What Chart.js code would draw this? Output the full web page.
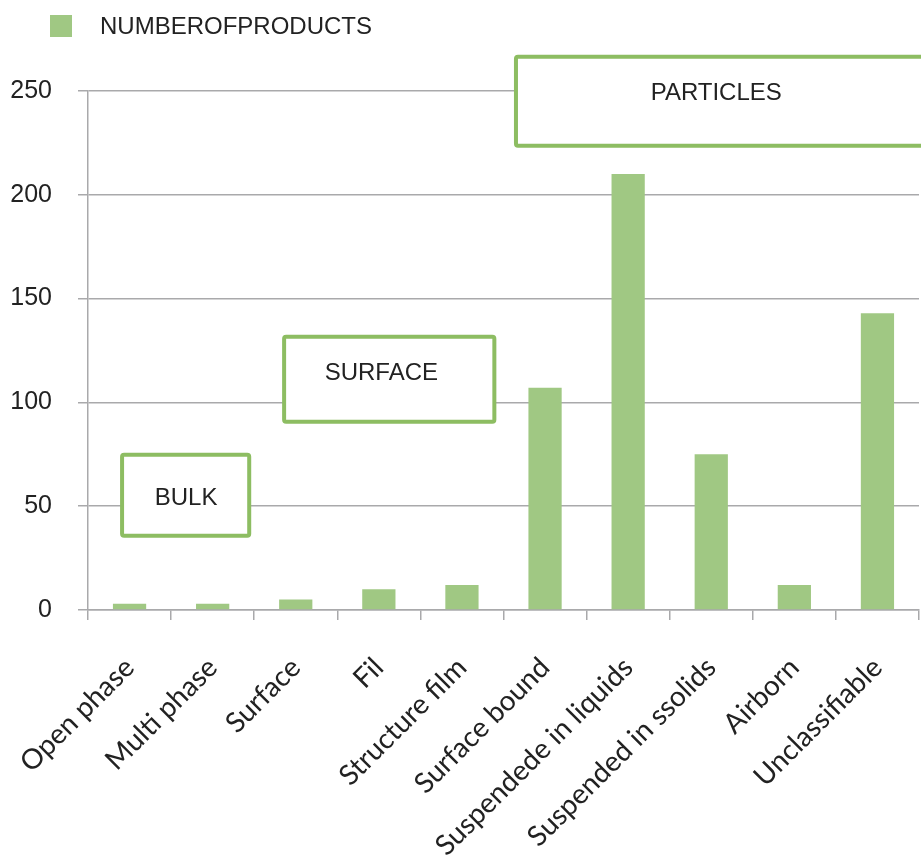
<!DOCTYPE html>
<html>
<head>
<meta charset="utf-8">
<script src="https://cdn.jsdelivr.net/npm/chart.js@4/dist/chart.umd.min.js"></script>
<style>
    html, body { margin: 0; padding: 0; background: #fff; }
    .m-chart { position: relative; width: 921px; height: 855px; }
</style>
</head>
<body>
<div class="m-chart"><canvas id="myChart"></canvas></div>
<script>
// data
const categories = ['Open phase', 'Multi phase', 'Surface', 'Fil', 'Structure film', 'Surface bound',
    'Suspendede in liquids', 'Suspended in ssolids', 'Airborn', 'Unclassifiable'];
const productCounts = [3, 3, 5, 10, 12, 107, 210, 75, 12, 143];
const yTicks = [0, 50, 100, 150, 200, 250];
const groupNames = ['BULK', 'SURFACE', 'PARTICLES'];
const seriesName = 'NUMBEROFPRODUCTS';

const barColor = '#a0c883';
const frameColor = '#8dbd62';
const gridColor = '#a9a9ab';
const textFont = '24px "Liberation Sans", Arial, sans-serif';

// boxes in data units (category index / value)
const groupBoxes = [
    { x0: -0.09, x1: 1.44, y0: 35.8, y1: 74.8, tx: 0.68, ty: 53.6 },
    { x0: 1.86, x1: 4.39, y0: 90.7, y1: 131.6, tx: 3.03, ty: 113.8 },
    { x0: 4.65, x1: 10.4, y0: 223.6, y1: 266.5, tx: 7.06, ty: 248.7 }
];

const groupPlugin = {
    id: 'groups',
    afterDraw(chart) {
        const ctx = chart.ctx, xs = chart.scales.x, ys = chart.scales.y;
        ctx.save();
        groupBoxes.forEach((b, i) => {
            const l = xs.getPixelForValue(b.x0), r = xs.getPixelForValue(b.x1);
            const t = ys.getPixelForValue(b.y1), btm = ys.getPixelForValue(b.y0);
            ctx.beginPath();
            ctx.roundRect(l, t, r - l, btm - t, 2);
            ctx.fillStyle = '#fff';
            ctx.fill();
            ctx.lineWidth = 4;
            ctx.strokeStyle = frameColor;
            ctx.stroke();
            ctx.fillStyle = '#222';
            ctx.font = textFont;
            ctx.textAlign = 'center';
            ctx.textBaseline = 'middle';
            ctx.fillText(groupNames[i], xs.getPixelForValue(b.tx), ys.getPixelForValue(b.ty));
        });
        // legend
        ctx.fillStyle = barColor;
        ctx.fillRect(50, 15, 22, 22);
        ctx.fillStyle = '#222';
        ctx.textAlign = 'left';
        ctx.font = textFont;
        ctx.fillText(chart.data.datasets[0].label, 100, 27);
        ctx.restore();
    }
};

const ctx = document.getElementById('myChart').getContext('2d');
const myChart = new Chart(ctx, {
    type: 'bar',
    data: {
        labels: categories,
        datasets: [{
            label: seriesName,
            data: productCounts,
            backgroundColor: barColor,
            barPercentage: 0.4,
            categoryPercentage: 1
        }]
    },
    options: {
        responsive: true,
        maintainAspectRatio: false,
        animation: false,
        layout: { padding: { top: 91, right: 2, left: 0, bottom: 0 } },
        plugins: {
            legend: { display: false },
            tooltip: { enabled: false }
        },
        scales: {
            x: {
                afterFit: s => { s.height = 245; s.paddingRight = 0; s.paddingLeft = 0; },
                grid: { drawOnChartArea: false, color: gridColor, lineWidth: 1.5, tickLength: 10 },
                border: { color: gridColor, width: 1.5 },
                ticks: {
                    color: '#222',
                    minRotation: 45,
                    maxRotation: 45,
                    padding: 31,
                    font: { family: 'Lato, "Open Sans", sans-serif', size: 28 }
                }
            },
            y: {
                min: 0,
                max: 250,
                afterFit: s => { s.width = 88; },
                afterBuildTicks: s => { s.ticks = yTicks.map(v => ({ value: v })); },
                grid: { color: gridColor, lineWidth: 1.5, tickLength: 10 },
                border: { color: gridColor, width: 1.5 },
                ticks: {
                    color: '#222',
                    padding: 26,
                    font: { family: '"Liberation Sans", Arial, sans-serif', size: 25 }
                }
            }
        }
    },
    plugins: [groupPlugin]
});
</script>
</body>
</html>
